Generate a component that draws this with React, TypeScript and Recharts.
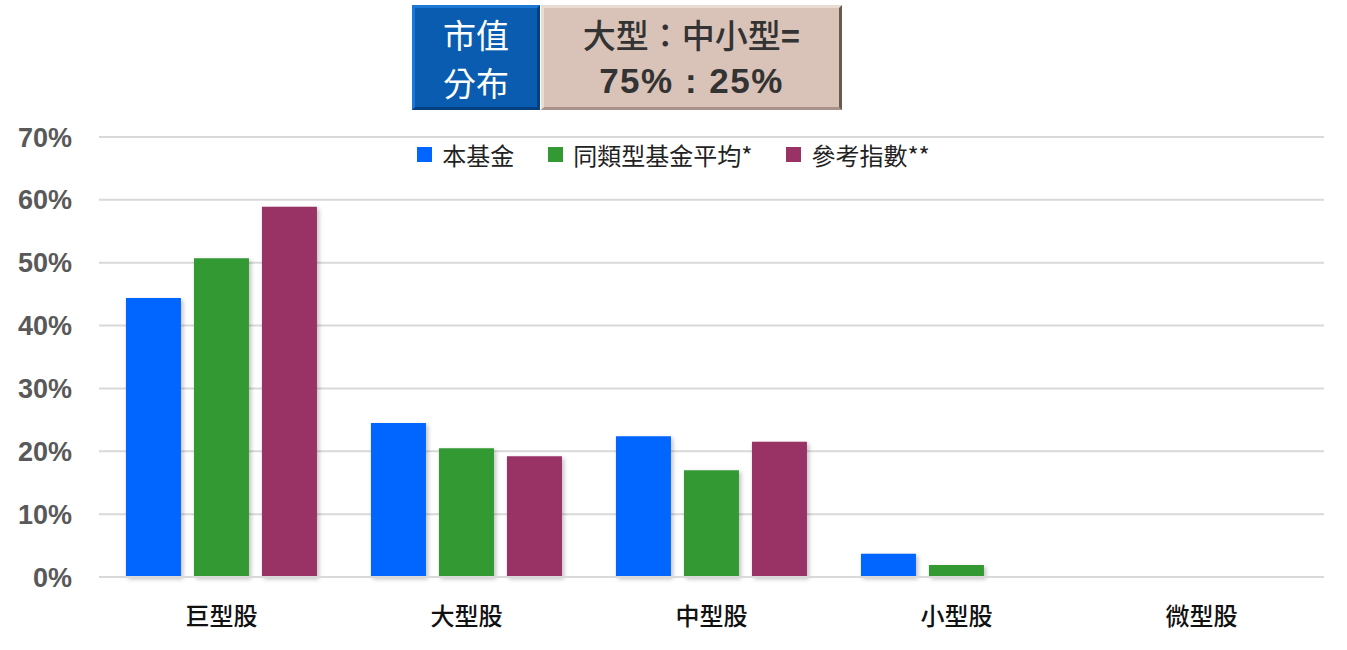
import { BarChart, Bar, XAxis, YAxis, CartesianGrid, Legend, Rectangle } from "recharts";

const categories = ["巨型股", "大型股", "中型股", "小型股", "微型股"];
const fundValues = [44.4, 24.5, 22.4, 3.7, 0];
const peerValues = [50.7, 20.5, 17.0, 1.9, 0];
const indexValues = [58.9, 19.2, 21.5, 0, 0];
const yTicks = [0, 10, 20, 30, 40, 50, 60, 70];

const series = [
  { key: "fund", name: "本基金", color: "#0066ff" },
  { key: "peer", name: "同類型基金平均*", color: "#339933" },
  { key: "index", name: "參考指數**", color: "#993366" },
];

const data = categories.map((name, i) => ({
  name,
  fund: fundValues[i],
  peer: peerValues[i],
  index: indexValues[i],
}));

const cjk = '"Noto Sans CJK TC", "Noto Sans", sans-serif';
const latin = '"Liberation Sans", Arial, sans-serif';

const LegendContent = () => (
  <div style={{ display: "flex", justifyContent: "center", alignItems: "center", fontFamily: cjk, fontSize: 24, color: "#222" }}>
    {series.map((s) => (
      <div key={s.key} style={{ display: "flex", alignItems: "center", margin: "0 17px" }}>
        <span style={{ width: 15, height: 15, background: s.color, display: "inline-block", marginRight: 10 }} />
        <span>{s.name}</span>
      </div>
    ))}
  </div>
);

const ShadowBar = (props: any) => (
  <Rectangle {...props} style={{ filter: "drop-shadow(2px 2px 2px rgba(0,0,0,0.25))" }} />
);

const App = () => {
  return (
    <div style={{ position: "fixed", top: 0, left: 0, width: 1347, height: 650, background: "#fff" }}>
      <BarChart
        width={1347}
        height={650}
        data={data}
        margin={{ top: 137, right: 23, left: 0, bottom: 0 }}
        barGap={13}
        barCategoryGap="11%"
      >
        <CartesianGrid vertical={false} stroke="#d9d9d9" strokeWidth={2} />
        <XAxis
          dataKey="name"
          height={73}
          tickLine={false}
          tickSize={0}
          tickMargin={31}
          axisLine={{ stroke: "#d9d9d9", strokeWidth: 2 }}
          tick={{ fontFamily: cjk, fontSize: 24, fontWeight: 500, fill: "#111" }}
        />
        <YAxis
          width={99}
          domain={[0, 70]}
          ticks={yTicks}
          interval={0}
          tickFormatter={(v) => `${v}%`}
          tickLine={false}
          tickSize={0}
          tickMargin={27}
          axisLine={false}
          tick={{ fontFamily: latin, fontSize: 27, fontWeight: "bold", fill: "#595959" }}
        />
        <Legend
          verticalAlign="middle"
          align="center"
          content={<LegendContent />}
          wrapperStyle={{ top: 137, left: 0, width: 1347 }}
        />
        {series.map((s) => (
          <Bar key={s.key} dataKey={s.key} name={s.name} fill={s.color} shape={ShadowBar} isAnimationActive={false} />
        ))}
      </BarChart>
      <div
        style={{
          position: "absolute",
          left: 412,
          top: 5,
          width: 128,
          height: 105,
          background: "#0a5cb0",
          boxSizing: "border-box",
          border: "3px solid #1b78d6",
          borderRightColor: "#063f80",
          borderBottomColor: "#063f80",
          color: "#fff",
          fontFamily: cjk,
          fontSize: 33,
          lineHeight: "48px",
          display: "flex",
          flexDirection: "column",
          alignItems: "center",
          justifyContent: "center",
        }}
      >
        <div>市值</div>
        <div>分布</div>
      </div>
      <div
        style={{
          position: "absolute",
          left: 541,
          top: 5,
          width: 301,
          height: 105,
          background: "#d9c3b8",
          boxSizing: "border-box",
          border: "3px solid #eadcd5",
          borderRightColor: "#6b5a52",
          borderBottomColor: "#a8938a",
          color: "#333",
          display: "flex",
          flexDirection: "column",
          alignItems: "center",
          justifyContent: "center",
          lineHeight: "44px",
        }}
      >
        <div style={{ fontFamily: cjk, fontSize: 33, fontWeight: 500 }}>
          大型：中小型<span style={{ fontFamily: latin, fontWeight: "bold" }}>=</span>
        </div>
        <div style={{ fontFamily: latin, fontSize: 35, fontWeight: "bold", whiteSpace: "pre", letterSpacing: 1.5 }}>
          {"75% : 25%"}
        </div>
      </div>
    </div>
  );
};

export default App;
